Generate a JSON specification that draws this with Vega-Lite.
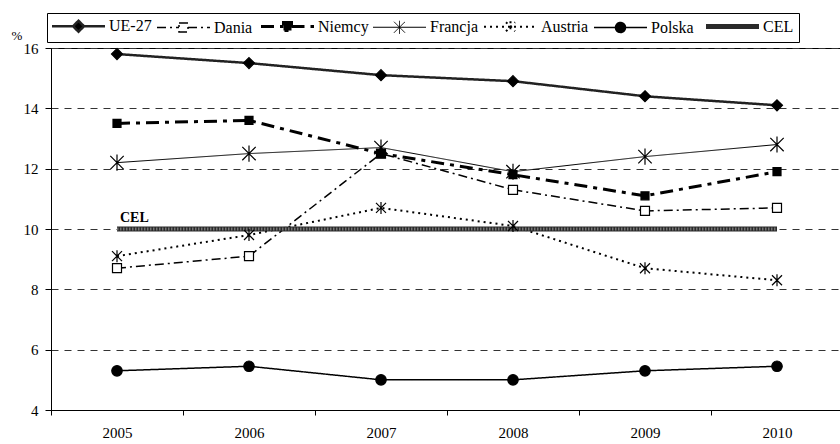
{
  "$schema": "https://vega.github.io/schema/vega-lite/v6.json",
  "width": 792,
  "height": 362,
  "autosize": {"type": "none"},
  "padding": {"left": 51, "top": 48, "right": 0, "bottom": 34},
  "background": "#ffffff",
  "data": {
    "values": [
      {"seria": "UE-27", "rok": "2005", "wartosc": 15.8},
      {"seria": "UE-27", "rok": "2006", "wartosc": 15.5},
      {"seria": "UE-27", "rok": "2007", "wartosc": 15.1},
      {"seria": "UE-27", "rok": "2008", "wartosc": 14.9},
      {"seria": "UE-27", "rok": "2009", "wartosc": 14.4},
      {"seria": "UE-27", "rok": "2010", "wartosc": 14.1},
      {"seria": "Dania", "rok": "2005", "wartosc": 8.7},
      {"seria": "Dania", "rok": "2006", "wartosc": 9.1},
      {"seria": "Dania", "rok": "2007", "wartosc": 12.5},
      {"seria": "Dania", "rok": "2008", "wartosc": 11.3},
      {"seria": "Dania", "rok": "2009", "wartosc": 10.6},
      {"seria": "Dania", "rok": "2010", "wartosc": 10.7},
      {"seria": "Niemcy", "rok": "2005", "wartosc": 13.5},
      {"seria": "Niemcy", "rok": "2006", "wartosc": 13.6},
      {"seria": "Niemcy", "rok": "2007", "wartosc": 12.5},
      {"seria": "Niemcy", "rok": "2008", "wartosc": 11.8},
      {"seria": "Niemcy", "rok": "2009", "wartosc": 11.1},
      {"seria": "Niemcy", "rok": "2010", "wartosc": 11.9},
      {"seria": "Francja", "rok": "2005", "wartosc": 12.2},
      {"seria": "Francja", "rok": "2006", "wartosc": 12.5},
      {"seria": "Francja", "rok": "2007", "wartosc": 12.7},
      {"seria": "Francja", "rok": "2008", "wartosc": 11.9},
      {"seria": "Francja", "rok": "2009", "wartosc": 12.4},
      {"seria": "Francja", "rok": "2010", "wartosc": 12.8},
      {"seria": "Austria", "rok": "2005", "wartosc": 9.1},
      {"seria": "Austria", "rok": "2006", "wartosc": 9.8},
      {"seria": "Austria", "rok": "2007", "wartosc": 10.7},
      {"seria": "Austria", "rok": "2008", "wartosc": 10.1},
      {"seria": "Austria", "rok": "2009", "wartosc": 8.7},
      {"seria": "Austria", "rok": "2010", "wartosc": 8.3},
      {"seria": "Polska", "rok": "2005", "wartosc": 5.3},
      {"seria": "Polska", "rok": "2006", "wartosc": 5.45},
      {"seria": "Polska", "rok": "2007", "wartosc": 5.0},
      {"seria": "Polska", "rok": "2008", "wartosc": 5.0},
      {"seria": "Polska", "rok": "2009", "wartosc": 5.3},
      {"seria": "Polska", "rok": "2010", "wartosc": 5.45},
      {"seria": "CEL", "rok": "2005", "wartosc": 10},
      {"seria": "CEL", "rok": "2006", "wartosc": 10},
      {"seria": "CEL", "rok": "2007", "wartosc": 10},
      {"seria": "CEL", "rok": "2008", "wartosc": 10},
      {"seria": "CEL", "rok": "2009", "wartosc": 10},
      {"seria": "CEL", "rok": "2010", "wartosc": 10}
    ]
  },
  "encoding": {
    "x": {
      "field": "rok",
      "type": "ordinal",
      "scale": {"type": "band", "paddingInner": 0, "paddingOuter": 0},
      "axis": {
        "title": null,
        "labelAngle": 0,
        "tickBand": "extent",
        "tickSize": 5,
        "labelPadding": 10,
        "labelFontSize": 15,
        "grid": false
      }
    },
    "y": {
      "field": "wartosc",
      "type": "quantitative",
      "scale": {"domain": [4, 16], "nice": false, "zero": false},
      "axis": {
        "title": "%",
        "titleAngle": 0,
        "titleX": -40,
        "titleY": -13,
        "titleAlign": "left",
        "titleBaseline": "middle",
        "titleFontSize": 13,
        "titleFontWeight": "normal",
        "values": [4, 6, 8, 10, 12, 14, 16],
        "grid": true,
        "gridDash": [7, 6],
        "gridColor": "#333333",
        "tickSize": 6,
        "labelPadding": 7,
        "labelFontSize": 15
      }
    }
  },
  "layer": [
    {
      "mark": {"type": "line"},
      "encoding": {
        "color": {
          "field": "seria",
          "type": "nominal",
          "scale": {
            "domain": ["UE-27", "Dania", "Niemcy", "Francja", "Austria", "Polska", "CEL"],
            "range": ["#222222", "#000000", "#000000", "#000000", "#000000", "#000000", "#2a2a2a"]
          },
          "legend": {
            "orient": "none",
            "legendX": -4,
            "legendY": -35,
            "direction": "horizontal",
            "title": null,
            "padding": 5,
            "strokeColor": "#000000",
            "columnPadding": 2,
            "labelFont": "Liberation Serif",
            "labelFontSize": 16,
            "labelColor": "#000000",
            "symbolSize": 100,
            "symbolStrokeWidth": 1.5,
            "encode": {
              "symbols": {
                "update": {
                  "x": {"value": 26.5},
                  "size": {"value": 100},
                  "shape": {"signal": "datum.value === 'UE-27' ? 'M-5.3,0H-1.1M1.1,0H5.3M0,-1.1L1.1,0L0,1.1L-1.1,0Z' : datum.value === 'Dania' ? 'M-5.3,0H-0.9M0.9,0H5.3M-0.9,-0.9H0.9V0.9H-0.9Z' : datum.value === 'Niemcy' ? 'M-5.3,0H-0.8M0.8,0H5.3M-0.8,-0.8H0.8V0.8H-0.8Z' : datum.value === 'Francja' ? 'M-5.3,0H5.3M-1.1,-1.1L1.1,1.1M-1.1,1.1L1.1,-1.1M0,-1.3V1.3' : datum.value === 'Austria' ? 'M-5.3,0H5.3M-0.9,-0.9L0.9,0.9M-0.9,0.9L0.9,-0.9M0,-1.1V1.1' : datum.value === 'Polska' ? 'M-5.3,0H-1M1,0H5.3M-1,0A1,1,0,1,1,1,0A1,1,0,1,1,-1,0Z' : 'M-5.3,0H5.3'"},
                  "fill": {"signal": "datum.value === 'Dania' ? '#ffffff' : '#000000'"},
                  "stroke": {"signal": "datum.value === 'CEL' ? '#3a3a3a' : '#000000'"},
                  "strokeWidth": {"signal": "datum.value === 'UE-27' ? 2.5 : datum.value === 'Niemcy' ? 3 : datum.value === 'CEL' ? 5 : datum.value === 'Francja' ? 1 : 1.5"},
                  "strokeDash": {"signal": "datum.value === 'Dania' ? [6, 3, 2, 3] : datum.value === 'Niemcy' ? [9, 4, 4, 4] : datum.value === 'Austria' ? [2, 3] : datum.value === 'CEL' ? [2, 1] : [1, 0]"},
                  "opacity": {"value": 1}
                }
              },
              "labels": {
                "update": {
                  "x": {"value": 57}
                }
              }
            }
          }
        },
        "strokeWidth": {
          "field": "seria",
          "type": "ordinal",
          "scale": {
            "type": "ordinal",
            "domain": ["UE-27", "Dania", "Niemcy", "Francja", "Austria", "Polska", "CEL"],
            "range": [2.5, 1.5, 3, 1, 2, 1.5, 5]
          },
          "legend": null
        },
        "strokeDash": {
          "field": "seria",
          "type": "nominal",
          "scale": {
            "domain": ["UE-27", "Dania", "Niemcy", "Francja", "Austria", "Polska", "CEL"],
            "range": [[1, 0], [9, 4, 2, 4], [13, 6, 4, 6], [1, 0], [2, 4], [1, 0], [1, 0]]
          },
          "legend": null
        }
      }
    },
    {
      "transform": [{"filter": "datum.seria === 'CEL'"}],
      "mark": {"type": "line", "color": "#ffffff", "opacity": 0.35, "strokeWidth": 3, "strokeDash": [1.5, 1.5]},
      "encoding": {}
    },
    {
      "transform": [{"filter": "datum.seria !== 'CEL'"}],
      "mark": {"type": "point", "stroke": "#000000", "strokeWidth": 1.2, "opacity": 1},
      "encoding": {
        "shape": {
          "field": "seria",
          "type": "nominal",
          "scale": {
            "domain": ["UE-27", "Dania", "Niemcy", "Francja", "Austria", "Polska"],
            "range": ["M0,-1L1,0L0,1L-1,0Z", "square", "square", "M-1,-1L1,1M-1,1L1,-1M0,-1.2V1.2", "M-1,-1L1,1M-1,1L1,-1M0,-1.2V1.2", "circle"]
          },
          "legend": null
        },
        "size": {
          "field": "seria",
          "type": "ordinal",
          "scale": {
            "type": "ordinal",
            "domain": ["UE-27", "Dania", "Niemcy", "Francja", "Austria", "Polska"],
            "range": [121, 81, 64, 180, 100, 110]
          },
          "legend": null
        },
        "fill": {
          "field": "seria",
          "type": "nominal",
          "scale": {
            "domain": ["UE-27", "Dania", "Niemcy", "Francja", "Austria", "Polska"],
            "range": ["#000000", "#ffffff", "#000000", "#000000", "#000000", "#000000"]
          },
          "legend": null
        }
      }
    },
    {
      "transform": [{"filter": "datum.seria === 'CEL' && datum.rok === '2005'"}],
      "mark": {
        "type": "text",
        "align": "left",
        "baseline": "alphabetic",
        "dx": 3,
        "dy": -7,
        "font": "Liberation Serif",
        "fontSize": 14,
        "fontWeight": "bold",
        "color": "#000000"
      },
      "encoding": {"text": {"field": "seria"}}
    }
  ],
  "config": {
    "axis": {
      "labelColor": "#000000",
      "domainColor": "#000000",
      "tickColor": "#000000",
      "labelFont": "Liberation Serif",
      "titleFont": "Liberation Serif",
      "titleColor": "#000000"
    },
    "view": {"stroke": "#000000", "strokeWidth": 1}
  }
}
